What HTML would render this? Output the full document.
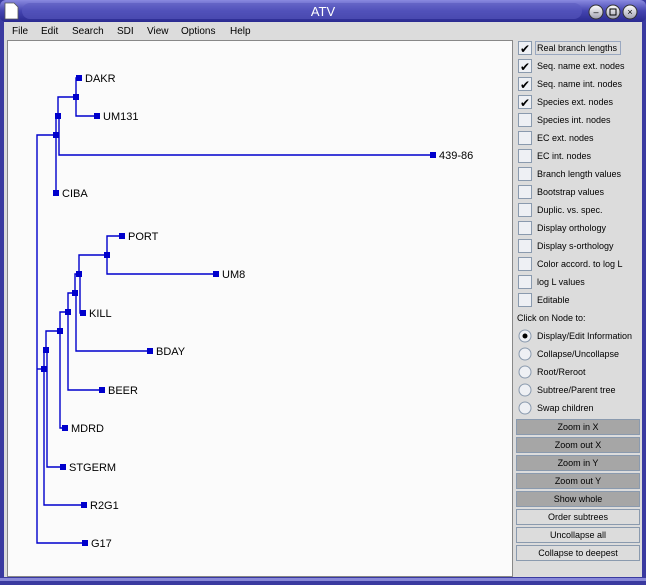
<!DOCTYPE html>
<html><head><meta charset="utf-8"><style>
body{margin:0;width:646px;height:585px;overflow:hidden;background:#d9d9d9}
svg{display:block;font-family:"Liberation Sans",sans-serif}
</style></head><body>
<svg width="646" height="585" viewBox="0 0 646 585" xmlns="http://www.w3.org/2000/svg">
<defs>
<linearGradient id="tb" x1="0" y1="0" x2="0" y2="1"><stop offset="0" stop-color="#8a8ae0"/><stop offset="0.5" stop-color="#4444b0"/><stop offset="1" stop-color="#2a2a90"/></linearGradient>
<linearGradient id="btn" x1="0" y1="0" x2="0" y2="1"><stop offset="0" stop-color="#ffffff"/><stop offset="1" stop-color="#a0a0b0"/></linearGradient>
</defs>
<rect width="646" height="585" fill="#3a3aa0"/>
<rect x="0" y="0" width="646" height="22" rx="6" fill="url(#tb)"/>
<rect x="22" y="3" width="560" height="16" rx="8" fill="#5a5ac0" opacity="0.6"/>
<path d="M5 3h9l4 4v12h-13z" fill="#fff" stroke="#555" stroke-width="0.8"/>
<text x="323" y="16" fill="#fff" font-size="13" text-anchor="middle">ATV</text>
<circle cx="596" cy="12" r="7" fill="url(#btn)" stroke="#333"/><circle cx="613" cy="12" r="7" fill="url(#btn)" stroke="#333"/><circle cx="630" cy="12" r="7" fill="url(#btn)" stroke="#333"/>
<text x="596" y="15" font-size="9" text-anchor="middle">–</text><rect x="610" y="9" width="6" height="6" fill="none" stroke="#000"/><text x="630" y="15" font-size="9" text-anchor="middle">×</text>
<rect x="4" y="22" width="638" height="556" fill="#dcdcdc"/>
<g font-size="10" fill="#000">
<text x="12" y="34">File</text><text x="41" y="34">Edit</text><text x="72" y="34">Search</text><text x="117" y="34">SDI</text><text x="147" y="34">View</text><text x="181" y="34">Options</text><text x="230" y="34">Help</text>
</g>
<rect x="7.5" y="40.5" width="505" height="536" fill="#fbfbfb" stroke="#888"/>
<rect x="0" y="577" width="646" height="8" fill="#3a3aa0"/>
<rect x="0" y="578" width="646" height="3" fill="#8888d8"/>
<!-- tree -->
<g stroke="#0000cc" stroke-width="1.4" fill="none">
<path d="M56 135H37V543H85"/>
<path d="M37 369H44"/>
<path d="M56 135V193"/><path d="M56 135V116H58"/>
<path d="M58 116V97H76"/><path d="M59 116V155H433"/>
<path d="M76 97V78H79"/><path d="M76 97V116H97"/>
<path d="M44 369V350H46"/><path d="M44 369V505H84"/>
<path d="M46 350V331H60"/><path d="M47 350V467H63"/>
<path d="M60 331V312H68"/><path d="M60 331V428H65"/>
<path d="M68 312V293H75"/><path d="M68 312V390H102"/>
<path d="M75 293V274H79"/><path d="M76 293V351H150"/>
<path d="M79 274V255H107"/><path d="M80 274V313H83"/>
<path d="M107 255V236H122"/><path d="M107 255V274H216"/>
</g>
<g fill="#0000cc">
<rect x="76" y="75" width="6" height="6"/><rect x="73" y="94" width="6" height="6"/><rect x="94" y="113" width="6" height="6"/><rect x="55" y="113" width="6" height="6"/><rect x="53" y="132" width="6" height="6"/><rect x="430" y="152" width="6" height="6"/><rect x="53" y="190" width="6" height="6"/>
<rect x="119" y="233" width="6" height="6"/><rect x="104" y="252" width="6" height="6"/><rect x="213" y="271" width="6" height="6"/><rect x="76" y="271" width="6" height="6"/><rect x="72" y="290" width="6" height="6"/><rect x="80" y="310" width="6" height="6"/><rect x="65" y="309" width="6" height="6"/><rect x="57" y="328" width="6" height="6"/><rect x="147" y="348" width="6" height="6"/><rect x="43" y="347" width="6" height="6"/><rect x="41" y="366" width="6" height="6"/><rect x="99" y="387" width="6" height="6"/><rect x="62" y="425" width="6" height="6"/><rect x="60" y="464" width="6" height="6"/><rect x="81" y="502" width="6" height="6"/><rect x="82" y="540" width="6" height="6"/>
</g>
<g font-size="11" fill="#000">
<text x="85" y="82">DAKR</text><text x="103" y="120">UM131</text><text x="439" y="159">439-86</text><text x="62" y="197">CIBA</text>
<text x="128" y="240">PORT</text><text x="222" y="278">UM8</text><text x="89" y="317">KILL</text><text x="156" y="355">BDAY</text><text x="108" y="394">BEER</text><text x="71" y="432">MDRD</text><text x="69" y="471">STGERM</text><text x="90" y="509">R2G1</text><text x="91" y="547">G17</text>
</g>
<!-- right panel -->
<g font-size="9" fill="#000">
<g stroke="#8a9aae" fill="#eef0f4">
<rect x="518.5" y="41.5" width="13" height="13"/><rect x="518.5" y="59.5" width="13" height="13"/><rect x="518.5" y="77.5" width="13" height="13"/><rect x="518.5" y="95.5" width="13" height="13"/><rect x="518.5" y="113.5" width="13" height="13"/><rect x="518.5" y="131.5" width="13" height="13"/><rect x="518.5" y="149.5" width="13" height="13"/><rect x="518.5" y="167.5" width="13" height="13"/><rect x="518.5" y="185.5" width="13" height="13"/><rect x="518.5" y="203.5" width="13" height="13"/><rect x="518.5" y="221.5" width="13" height="13"/><rect x="518.5" y="239.5" width="13" height="13"/><rect x="518.5" y="257.5" width="13" height="13"/><rect x="518.5" y="275.5" width="13" height="13"/><rect x="518.5" y="293.5" width="13" height="13"/>
</g>
<g font-size="12"><text x="520" y="53">✔</text><text x="520" y="71">✔</text><text x="520" y="89">✔</text><text x="520" y="107">✔</text></g>
<rect x="535.5" y="41.5" width="85" height="13" fill="none" stroke="#9aa8c0"/>
<text x="537" y="51">Real branch lengths</text><text x="537" y="69">Seq. name ext. nodes</text><text x="537" y="87">Seq. name int. nodes</text><text x="537" y="105">Species ext. nodes</text><text x="537" y="123">Species int. nodes</text><text x="537" y="141">EC ext. nodes</text><text x="537" y="159">EC int. nodes</text><text x="537" y="177">Branch length values</text><text x="537" y="195">Bootstrap values</text><text x="537" y="213">Duplic. vs. spec.</text><text x="537" y="231">Display orthology</text><text x="537" y="249">Display s-orthology</text><text x="537" y="267">Color accord. to log L</text><text x="537" y="285">log L values</text><text x="537" y="303">Editable</text>
<text x="517" y="321">Click on Node to:</text>
<g stroke="#8a9aae" fill="#eef0f4"><circle cx="525" cy="336" r="6"/><circle cx="525" cy="354" r="6"/><circle cx="525" cy="372" r="6"/><circle cx="525" cy="390" r="6"/><circle cx="525" cy="408" r="6"/></g>
<circle cx="525" cy="336" r="2.5" fill="#000"/>
<text x="537" y="339">Display/Edit Information</text><text x="537" y="357">Collapse/Uncollapse</text><text x="537" y="375">Root/Reroot</text><text x="537" y="393">Subtree/Parent tree</text><text x="537" y="411">Swap children</text>
<g stroke="#8a9aae"><rect x="516.5" y="419.5" width="123" height="15" fill="#a6a6a6"/><rect x="516.5" y="437.5" width="123" height="15" fill="#a6a6a6"/><rect x="516.5" y="455.5" width="123" height="15" fill="#a6a6a6"/><rect x="516.5" y="473.5" width="123" height="15" fill="#a6a6a6"/><rect x="516.5" y="491.5" width="123" height="15" fill="#a6a6a6"/><rect x="516.5" y="509.5" width="123" height="15" fill="#dcdcdc"/><rect x="516.5" y="527.5" width="123" height="15" fill="#dcdcdc"/><rect x="516.5" y="545.5" width="123" height="15" fill="#dcdcdc"/></g>
<g text-anchor="middle"><text x="578" y="430">Zoom in X</text><text x="578" y="448">Zoom out X</text><text x="578" y="466">Zoom in Y</text><text x="578" y="484">Zoom out Y</text><text x="578" y="502">Show whole</text><text x="578" y="520">Order subtrees</text><text x="578" y="538">Uncollapse all</text><text x="578" y="556">Collapse to deepest</text></g>
</g>
</svg>
</body></html>
